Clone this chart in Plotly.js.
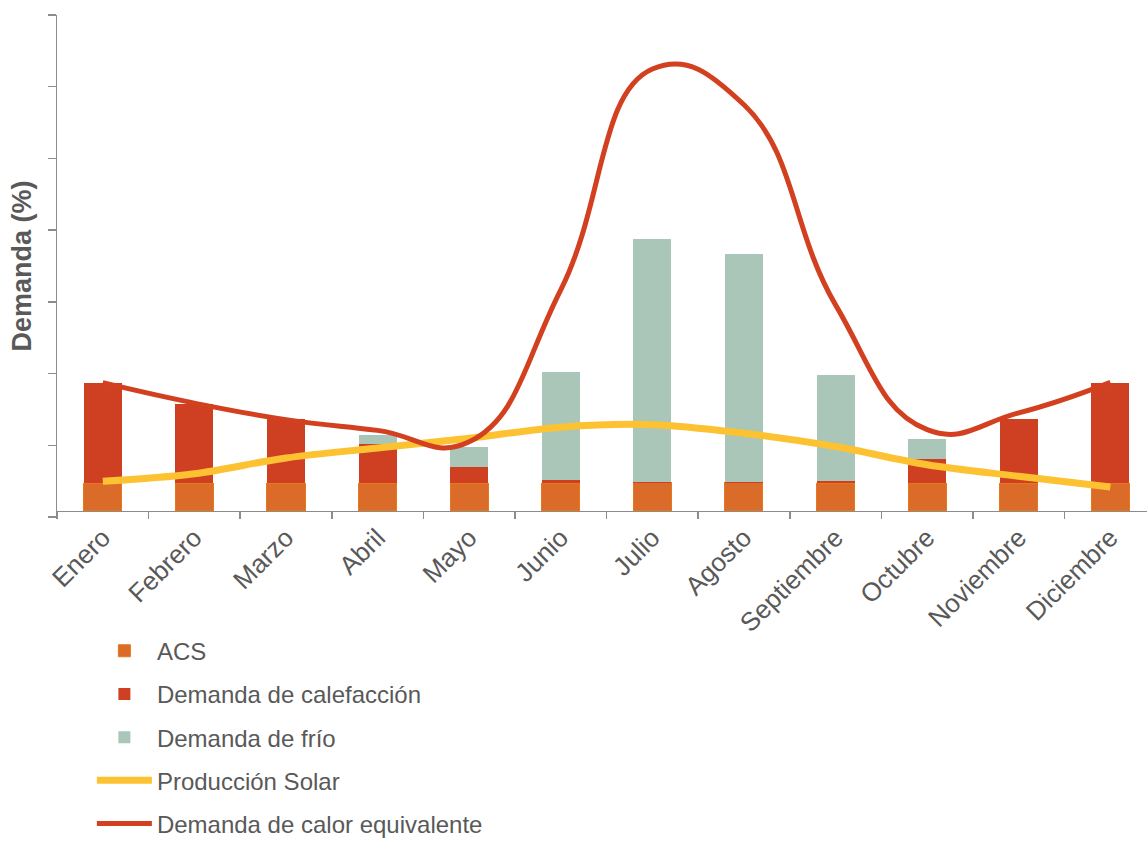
<!DOCTYPE html>
<html>
<head>
<meta charset="utf-8">
<script src="https://cdn.plot.ly/plotly-3.0.1.min.js"></script>
<style>html,body{margin:0;padding:0;background:#fff;}#chart{width:1147px;height:841px;}</style>
</head>
<body>
<div id="chart"></div>
<script>
const months = ['Enero','Febrero','Marzo','Abril','Mayo','Junio','Julio','Agosto','Septiembre','Octubre','Noviembre','Diciembre'];
const acs = [3.85, 3.85, 3.85, 3.85, 3.85, 3.85, 3.9, 3.9, 3.85, 3.85, 3.85, 3.85];
const calefaccion = [13.95, 11.05, 8.9, 5.5, 2.25, 0.45, 0.1, 0.05, 0.3, 3.4, 9.0, 14.0];
const frio = [0, 0, 0, 1.25, 2.8, 15.1, 33.9, 31.9, 14.8, 2.75, 0, 0];
const solar = [4.1, 5.15, 7.35, 8.75, 10.1, 11.65, 12.0, 10.8, 8.95, 6.4, 4.8, 3.3];
const calorEquivalente = [17.85, 15.0, 12.7, 11.2, 9.6, 30.8, 61.6, 56.6, 28.7, 11.3, 13.65, 17.9];

const FONT = 'Liberation Sans, Arial, sans-serif';
const TXT = '#595959';
const AX = '#8c8c8c';
const BW = 0.415;

const traces = [
  {type:'bar', name:'ACS', x:months, y:acs, width:BW, legendgroup:'a',
   marker:{color:'#db6b29', line:{color:'#e8761c', width:1}}},
  {type:'bar', name:'Demanda de calefacción', x:months, y:calefaccion, width:BW, legendgroup:'b',
   marker:{color:'#cf3f22', line:{width:0}}},
  {type:'bar', name:'Demanda de frío', x:months, y:frio, width:BW, legendgroup:'c',
   marker:{color:'#aac6b8', line:{width:0}}},
  {type:'scatter', mode:'lines', name:'Producción Solar', x:months, y:solar, legendgroup:'d',
   line:{color:'#fcc232', width:7, shape:'spline', smoothing:1}},
  {type:'scatter', mode:'lines', name:'Demanda de calor equivalente', x:months, y:calorEquivalente, legendgroup:'e',
   line:{color:'#d2401f', width:5, shape:'spline', smoothing:1.3}}
];

const layout = {
  width:1147, height:841,
  margin:{l:57, r:0, t:15, b:324, autoexpand:false},
  paper_bgcolor:'#fff', plot_bgcolor:'#fff',
  barmode:'stack', bargap:0,
  font:{family:FONT, color:TXT, size:24},
  showlegend:true,
  legend:{x:0.032, y:-0.2224, xanchor:'left', yanchor:'top', orientation:'v',
          traceorder:'grouped', tracegroupgap:9, itemwidth:55,
          font:{family:FONT, color:TXT, size:24}, bgcolor:'rgba(0,0,0,0)'},
  xaxis:{type:'category', range:[-0.5, 11.40], anchor:'free', position:0.01254, automargin:false,
         showline:true, linecolor:AX, linewidth:1.5, ticks:'outside', ticklen:7, tickwidth:1.5, tickcolor:AX,
         tickson:'boundaries', tickangle:-45, showgrid:false, zeroline:false,
         tickfont:{family:FONT, color:TXT, size:26}},
  yaxis:{range:[-0.878, 69.122], tick0:-0.878, dtick:10, showticklabels:false, automargin:false,
         showline:true, linecolor:AX, linewidth:1.5, ticks:'outside', ticklen:8, tickwidth:1.5, tickcolor:AX,
         showgrid:false, zeroline:false,
         title:{text:'Demanda (%)', standoff:8, font:{family:FONT, color:TXT, size:27, weight:'bold'}}}
};

Plotly.newPlot('chart', traces, layout, {displayModeBar:false, staticPlot:true});
</script>
</body>
</html>
